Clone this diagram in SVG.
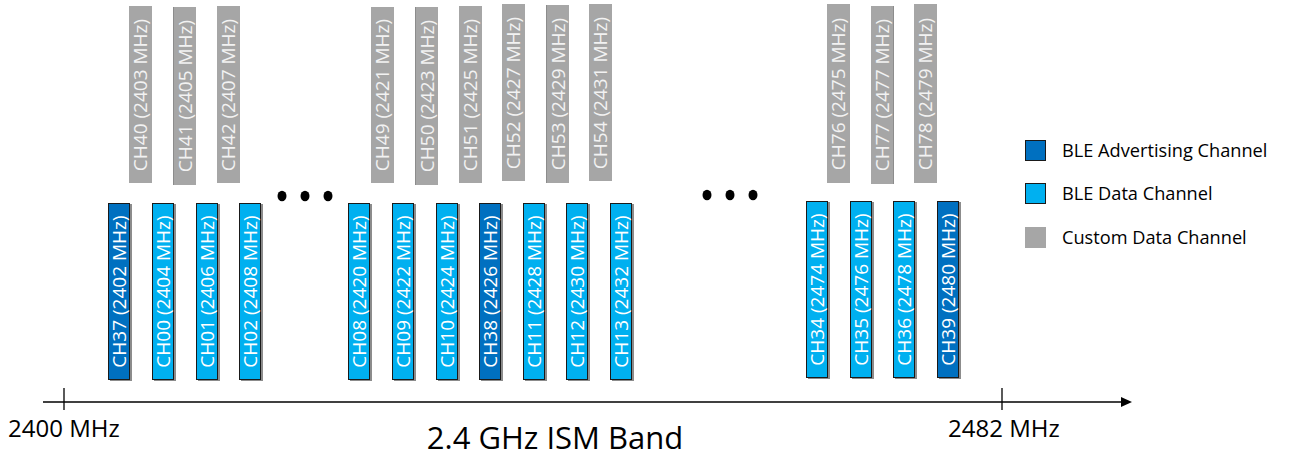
<svg xmlns="http://www.w3.org/2000/svg" width="1290" height="457" viewBox="0 0 1290 457">
<style>
.adv{fill:#0070c0;stroke:#1a1a1a;stroke-width:1}
.dat{fill:#00b0f0;stroke:#1a1a1a;stroke-width:1}
.cus{fill:#a6a6a6}
.sh{fill:#8c8c8c}
.bt{font-family:"Open Sans","Liberation Sans",sans-serif;font-size:19px;fill:#ffffff;text-anchor:middle}
.gt{font-family:"Open Sans","Liberation Sans",sans-serif;font-size:19px;fill:#f2f2f2;text-anchor:middle}
.lg{font-family:"Open Sans","Liberation Sans",sans-serif;font-size:18.2px;fill:#000}
.ax{font-family:"Open Sans","Liberation Sans",sans-serif;font-size:24px;fill:#000}
.big{font-family:"Open Sans","Liberation Sans",sans-serif;font-size:31px;fill:#000;text-anchor:middle}
.ln{stroke:#000;stroke-width:1.3;fill:none}
</style>
<g id="connectors">
<line class="ln" x1="43" y1="402" x2="1124" y2="402"/>
<polygon points="1121,397 1132,402 1121,407" fill="#000"/>
<line class="ln" x1="64" y1="388" x2="64" y2="410"/>
<line class="ln" x1="1002" y1="388" x2="1002" y2="410"/>
</g>
<g id="gray-channels">
<g id="CH40"><rect class="cus" x="129" y="6" width="23" height="177"/><text class="gt" transform="translate(140.5,95) rotate(-90)" y="6.8">CH40 (2403 MHz)</text></g>
<g id="CH41"><rect class="sh" x="173" y="7" width="2" height="178"/><rect class="cus" x="174" y="7" width="22" height="178"/><text class="gt" transform="translate(185,96) rotate(-90)" y="6.8">CH41 (2405 MHz)</text></g>
<g id="CH42"><rect class="cus" x="217" y="6" width="23" height="177"/><text class="gt" transform="translate(228.5,95) rotate(-90)" y="6.8">CH42 (2407 MHz)</text></g>
<g id="CH49"><rect class="cus" x="371" y="7" width="23" height="176"/><text class="gt" transform="translate(382.5,95) rotate(-90)" y="6.8">CH49 (2421 MHz)</text></g>
<g id="CH50"><rect class="sh" x="415" y="7" width="2" height="178"/><rect class="cus" x="416" y="7" width="22" height="178"/><text class="gt" transform="translate(427,96) rotate(-90)" y="6.8">CH50 (2423 MHz)</text></g>
<g id="CH51"><rect class="cus" x="459" y="6" width="23" height="177"/><text class="gt" transform="translate(470.5,95) rotate(-90)" y="6.8">CH51 (2425 MHz)</text></g>
<g id="CH52"><rect class="cus" x="502" y="4" width="23" height="177"/><text class="gt" transform="translate(513.5,93) rotate(-90)" y="6.8">CH52 (2427 MHz)</text></g>
<g id="CH53"><rect class="sh" x="546" y="5" width="2" height="178"/><rect class="cus" x="547" y="5" width="22" height="178"/><text class="gt" transform="translate(558,94) rotate(-90)" y="6.8">CH53 (2429 MHz)</text></g>
<g id="CH54"><rect class="cus" x="589" y="4" width="23" height="177"/><text class="gt" transform="translate(600.5,93) rotate(-90)" y="6.8">CH54 (2431 MHz)</text></g>
<g id="CH76"><rect class="cus" x="827" y="4" width="23" height="179"/><text class="gt" transform="translate(838.5,94) rotate(-90)" y="6.8">CH76 (2475 MHz)</text></g>
<g id="CH77"><rect class="sh" x="892" y="6" width="2" height="178"/><rect class="cus" x="871" y="6" width="22" height="178"/><text class="gt" transform="translate(882,95) rotate(-90)" y="6.8">CH77 (2477 MHz)</text></g>
<g id="CH78"><rect class="cus" x="914" y="4" width="23" height="179"/><text class="gt" transform="translate(925.5,94) rotate(-90)" y="6.8">CH78 (2479 MHz)</text></g>
</g>
<g id="ble-channels">
<g id="CH37"><rect class="sh" x="110" y="204" width="22" height="177"/><rect class="adv" x="108.5" y="203.5" width="21" height="176"/><text class="bt" transform="translate(119,291.5) rotate(-90)" y="6.8">CH37 (2402 MHz)</text></g>
<g id="CH00"><rect class="sh" x="154" y="204" width="22" height="177"/><rect class="dat" x="152.5" y="203.5" width="21" height="176"/><text class="bt" transform="translate(163,291.5) rotate(-90)" y="6.8">CH00 (2404 MHz)</text></g>
<g id="CH01"><rect class="sh" x="198" y="204" width="22" height="177"/><rect class="dat" x="196.5" y="203.5" width="21" height="176"/><text class="bt" transform="translate(207,291.5) rotate(-90)" y="6.8">CH01 (2406 MHz)</text></g>
<g id="CH02"><rect class="sh" x="241" y="204" width="22" height="177"/><rect class="dat" x="239.5" y="203.5" width="21" height="176"/><text class="bt" transform="translate(250,291.5) rotate(-90)" y="6.8">CH02 (2408 MHz)</text></g>
<g id="CH08"><rect class="sh" x="350" y="204" width="22" height="177"/><rect class="dat" x="348.5" y="203.5" width="21" height="176"/><text class="bt" transform="translate(359,291.5) rotate(-90)" y="6.8">CH08 (2420 MHz)</text></g>
<g id="CH09"><rect class="sh" x="394" y="204" width="22" height="177"/><rect class="dat" x="392.5" y="203.5" width="21" height="176"/><text class="bt" transform="translate(403,291.5) rotate(-90)" y="6.8">CH09 (2422 MHz)</text></g>
<g id="CH10"><rect class="sh" x="438" y="204" width="22" height="177"/><rect class="dat" x="436.5" y="203.5" width="21" height="176"/><text class="bt" transform="translate(447,291.5) rotate(-90)" y="6.8">CH10 (2424 MHz)</text></g>
<g id="CH38"><rect class="sh" x="481" y="204" width="22" height="177"/><rect class="adv" x="479.5" y="203.5" width="21" height="176"/><text class="bt" transform="translate(490,291.5) rotate(-90)" y="6.8">CH38 (2426 MHz)</text></g>
<g id="CH11"><rect class="sh" x="525" y="204" width="22" height="177"/><rect class="dat" x="523.5" y="203.5" width="21" height="176"/><text class="bt" transform="translate(534,291.5) rotate(-90)" y="6.8">CH11 (2428 MHz)</text></g>
<g id="CH12"><rect class="sh" x="568" y="204" width="22" height="177"/><rect class="dat" x="566.5" y="203.5" width="21" height="176"/><text class="bt" transform="translate(577,291.5) rotate(-90)" y="6.8">CH12 (2430 MHz)</text></g>
<g id="CH13"><rect class="sh" x="612" y="204" width="22" height="177"/><rect class="dat" x="610.5" y="203.5" width="21" height="176"/><text class="bt" transform="translate(621,291.5) rotate(-90)" y="6.8">CH13 (2432 MHz)</text></g>
<g id="CH34"><rect class="sh" x="808" y="202" width="22" height="177"/><rect class="dat" x="806.5" y="201.5" width="21" height="176"/><text class="bt" transform="translate(817,289.5) rotate(-90)" y="6.8">CH34 (2474 MHz)</text></g>
<g id="CH35"><rect class="sh" x="852" y="202" width="22" height="177"/><rect class="dat" x="850.5" y="201.5" width="21" height="176"/><text class="bt" transform="translate(861,289.5) rotate(-90)" y="6.8">CH35 (2476 MHz)</text></g>
<g id="CH36"><rect class="sh" x="895" y="202" width="22" height="177"/><rect class="dat" x="893.5" y="201.5" width="21" height="176"/><text class="bt" transform="translate(904,289.5) rotate(-90)" y="6.8">CH36 (2478 MHz)</text></g>
<g id="CH39"><rect class="sh" x="939" y="202" width="22" height="177"/><rect class="adv" x="937.5" y="201.5" width="21" height="176"/><text class="bt" transform="translate(948,289.5) rotate(-90)" y="6.8">CH39 (2480 MHz)</text></g>
</g>
<g id="ellipsis-1">
<ellipse cx="282" cy="196" rx="4.5" ry="5.2"/>
<ellipse cx="305" cy="196" rx="4.5" ry="5.2"/>
<ellipse cx="328" cy="196" rx="4.5" ry="5.2"/>
</g>
<g id="ellipsis-2">
<ellipse cx="707" cy="195" rx="4.5" ry="5.2"/>
<ellipse cx="730" cy="195" rx="4.5" ry="5.2"/>
<ellipse cx="753" cy="195" rx="4.5" ry="5.2"/>
</g>
<g id="legend">
<rect x="1025.5" y="140.5" width="20" height="20" fill="#0070c0" stroke="#1a1a1a"/>
<text class="lg" x="1062" y="157">BLE Advertising Channel</text>
<rect x="1025.5" y="183.5" width="20" height="20" fill="#00b0f0" stroke="#1a1a1a"/>
<text class="lg" x="1062" y="200">BLE Data Channel</text>
<rect x="1025" y="227" width="21" height="21" fill="#a6a6a6"/>
<text class="lg" x="1062" y="244">Custom Data Channel</text>
</g>
<g id="labels">
<text class="ax" x="8" y="437">2400 MHz</text>
<text class="ax" x="948" y="437">2482 MHz</text>
<text class="big" x="555" y="449">2.4 GHz ISM Band</text>
</g>
</svg>
